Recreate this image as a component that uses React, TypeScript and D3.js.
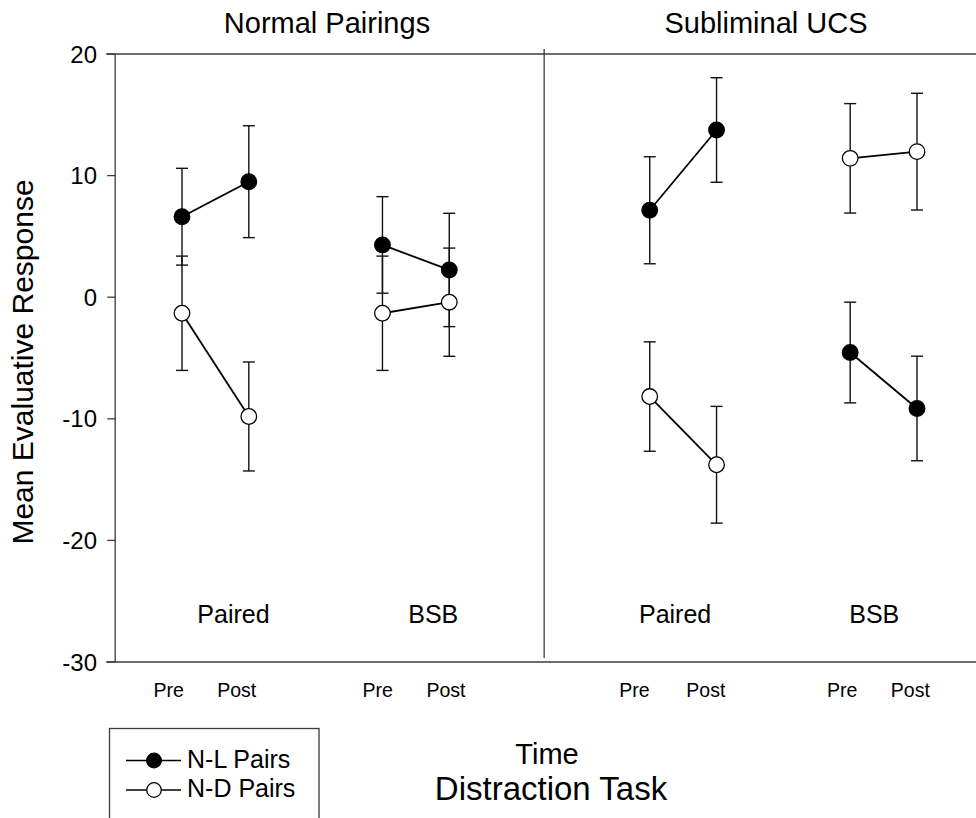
import React from "react";
import * as d3 from "d3";

// ---- data ----
const panelTitles = ["Normal Pairings", "Subliminal UCS"];
const panelTitlePos = [2.17, 8.74];
const groupLabels = ["Paired", "BSB", "Paired", "BSB"];
const groupLabelPos = [0.77, 3.76, 7.38, 10.36];
const timeLabels = ["Pre", "Post", "Pre", "Post", "Pre", "Post", "Pre", "Post"];
const timeLabelPos = [-0.2, 0.82, 2.93, 3.95, 6.77, 7.84, 9.88, 10.9];
const xPositions = [0, 1, 3, 4, 7, 8, 10, 11];
const nlMeans = [6.62, 9.5, 4.3, 2.24, 7.15, 13.75, -4.55, -9.15];
const nlErrors = [3.98, 4.6, 3.97, 4.66, 4.4, 4.3, 4.14, 4.3];
const ndMeans = [-1.32, -9.81, -1.32, -0.41, -8.17, -13.78, 11.42, 11.97];
const ndErrors = [4.7, 4.48, 4.7, 4.45, 4.5, 4.8, 4.5, 4.8];
const yTicks = [20, 10, 0, -10, -20, -30];
const pairs = [[0, 1], [2, 3], [4, 5], [6, 7]];
const legendLabels = ["N-L Pairs", "N-D Pairs"];
const dividerPos = 5.42;

const W = 976;
const H = 818;
const FONT = "'Liberation Sans', Arial, Helvetica, sans-serif";

export default function App() {
  const x = d3.scaleLinear().domain([0, 11]).range([182, 917]);
  const y = d3.scaleLinear().domain([-30, 20]).range([662, 54]);
  const axisX = x(-1);
  const line = d3.line<[number, number]>().x((d) => x(d[0])).y((d) => y(d[1]));
  const axisColor = "#3a3a3a";
  const r = 7.8;
  const cap = 6;

  const series = [
    { means: nlMeans, errs: nlErrors, fill: "#000" },
    { means: ndMeans, errs: ndErrors, fill: "#fff" },
  ];

  return (
    <svg
      width={W}
      height={H}
      style={{ position: "absolute", left: 0, top: 0, background: "#fff" }}
      fontFamily={FONT}
    >
      <rect x={0} y={0} width={W} height={H} fill="#fff" />
      {/* frame */}
      <line x1={axisX} x2={axisX} y1={y(20)} y2={y(-30)} stroke={axisColor} strokeWidth={1.3} />
      <line x1={axisX - 9} x2={W} y1={y(20)} y2={y(20)} stroke={axisColor} strokeWidth={1.3} />
      <line x1={axisX - 9} x2={W} y1={y(-30)} y2={y(-30)} stroke={axisColor} strokeWidth={1.3} />
      <line x1={x(dividerPos)} x2={x(dividerPos)} y1={y(20) - 5} y2={y(-30) - 4} stroke={axisColor} strokeWidth={1.3} />
      {yTicks.map((t) => (
        <g key={t}>
          <line x1={axisX - 8} x2={axisX} y1={y(t)} y2={y(t)} stroke={axisColor} strokeWidth={1.3} />
          <text x={97} y={y(t)} dy="0.36em" textAnchor="end" fontSize={24} fill="#000">
            {t}
          </text>
        </g>
      ))}
      <text
        transform={`translate(33, 362) rotate(-90)`}
        textAnchor="middle"
        fontSize={30}
        fill="#000"
      >
        Mean Evaluative Response
      </text>
      {panelTitles.map((t, i) => (
        <text key={t} x={x(panelTitlePos[i])} y={33} textAnchor="middle" fontSize={29} fill="#000">
          {t}
        </text>
      ))}
      {groupLabels.map((t, i) => (
        <text key={i} x={x(groupLabelPos[i])} y={622.5} textAnchor="middle" fontSize={25} fill="#000">
          {t}
        </text>
      ))}
      {timeLabels.map((t, i) => (
        <text key={i} x={x(timeLabelPos[i])} y={696.5} textAnchor="middle" fontSize={19.5} fill="#000">
          {t}
        </text>
      ))}
      {/* error bars */}
      {series.map((s, si) =>
        s.means.map((m, i) => {
          const cx = x(xPositions[i]);
          const top = y(m + s.errs[i]);
          const bot = y(m - s.errs[i]);
          return (
            <g key={`e${si}-${i}`} stroke="#111" strokeWidth={1.4}>
              <line x1={cx} x2={cx} y1={top} y2={bot} />
              <line x1={cx - cap} x2={cx + cap} y1={top} y2={top} />
              <line x1={cx - cap} x2={cx + cap} y1={bot} y2={bot} />
            </g>
          );
        })
      )}
      {/* connecting lines */}
      {series.map((s, si) =>
        pairs.map((p, pi) => (
          <path
            key={`l${si}-${pi}`}
            d={line(p.map((i) => [xPositions[i], s.means[i]] as [number, number])) || ""}
            fill="none"
            stroke="#000"
            strokeWidth={1.8}
          />
        ))
      )}
      {/* markers */}
      {series.map((s, si) =>
        s.means.map((m, i) => (
          <circle
            key={`c${si}-${i}`}
            cx={x(xPositions[i])}
            cy={y(m)}
            r={r}
            fill={s.fill}
            stroke="#000"
            strokeWidth={1.3}
          />
        ))
      )}
      {/* legend */}
      <rect x={109.5} y={728.5} width={209.5} height={100} fill="#fff" stroke={axisColor} strokeWidth={1.3} />
      {legendLabels.map((t, i) => {
        const ly = 760.5 + i * 29.5;
        return (
          <g key={t}>
            <line x1={126} x2={181} y1={ly} y2={ly} stroke="#000" strokeWidth={1.5} />
            <circle cx={154} cy={ly} r={7.3} fill={series[i].fill} stroke="#000" strokeWidth={1.3} />
            <text x={187} y={ly + 7} fontSize={25} fill="#000">
              {t}
            </text>
          </g>
        );
      })}
      <text x={547} y={764} textAnchor="middle" fontSize={29} fill="#000">
        Time
      </text>
      <text x={551} y={800} textAnchor="middle" fontSize={33} fill="#000">
        Distraction Task
      </text>
    </svg>
  );
}
